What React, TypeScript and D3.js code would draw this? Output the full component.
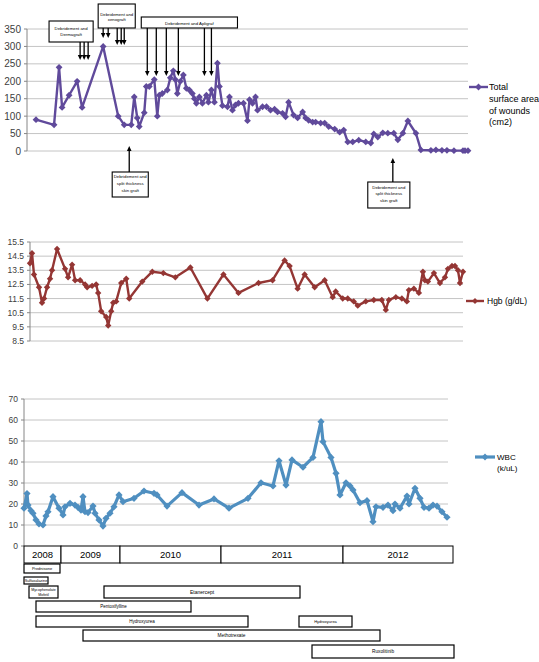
import React from "react";
import * as d3 from "d3";

// ---------- DATA ----------
// Top panel: total surface area of wounds (cm2) by week of follow-up
const woundWeeks = [4.5,13.5,16,17.5,21,25,27.5,38,45.5,48.5,52,53.5,55,56,58.5,59.5,61,63.5,65,66,67.5,70,71.5,73,74,75,76.5,78,79.5,81,82.5,83.5,84.5,86,87.5,89.5,90.5,92,93.5,95,96,97.5,100,101,102.5,104,105.5,108,110,111,112.5,114,115,117.5,119.5,121.5,123.5,125,127.5,129,130.5,133,135,137.5,139,140.5,142.5,144,146.5,148.5,150.5,153.5,156,158,160,162.5,165.5,169,171.5,173,175,177.5,180,183,185,187.5,190,194,196.5,201.5,204,207,209.5,213,217.5,218.5,220];
const woundArea = [90,75,240,125,160,200,125,300,100,75,75,155,95,70,110,185,185,205,100,160,165,175,210,230,205,165,200,218,180,175,165,150,137,155,137,160,140,175,140,252,185,130,127,155,117,132,137,137,87,147,137,155,117,127,127,117,120,112,108,98,140,103,95,112,95,88,83,83,80,80,70,63,54,60,26,26,31,26,23,49,40,52,51,51,32,51,86,51,3,2,3,2,2,1,1,1,1];
const woundTicks = [0,50,100,150,200,250,300,350];

// Middle panel: Hgb (g/dL)
const hgbWeeks = [0,1,2,4.5,6,7,8.5,10,11,13.5,17.5,19,21,22.5,25,27.5,28.5,31,33,34,35.5,38,39,40.5,41.5,43,45.5,48,49.5,56,61,66.5,72.5,80,88.5,96.5,104,114,121,127,129.5,133.5,137,142,147,151,152.5,156,158.5,161.5,163.5,167.5,171.5,175.5,177.5,179,182.5,185.5,188,189,191.5,194,196,197,198.5,201.5,204.5,207,208.5,210.5,212,213.5,214.5,216];
const hgbValues = [14.0,14.7,13.2,12.3,11.2,11.5,12.3,12.9,13.5,15.0,13.6,13.0,13.9,12.8,12.8,12.5,12.3,12.4,12.5,11.9,10.6,10.2,9.6,10.6,11.2,11.3,12.6,12.9,11.5,12.7,13.4,13.3,13.0,13.7,11.5,13.2,11.9,12.6,12.8,14.2,13.8,12.2,13.2,12.3,12.8,11.6,12.0,11.5,11.5,11.3,11.0,11.3,11.4,11.4,10.7,11.4,11.6,11.5,11.3,12.1,12.2,11.9,13.4,12.8,12.7,13.3,12.6,13.0,13.6,13.8,13.8,13.5,12.6,13.4];
const hgbTicks = [8.5,9.5,10.5,11.5,12.5,13.5,14.5,15.5];

// Bottom panel: WBC (k/uL)
const wbcWeeks = [0,1.5,2,3.5,4.5,6,7.5,9.5,11,12,14.5,17.5,19.5,20.5,23,25.5,27,28.5,29.5,30.5,32,34.5,35.5,37.5,39.5,41,43,45,47.5,49.5,55,60,65,66.5,71.5,79,87.5,95,102.5,112,118.5,124.5,127.5,131,134,139.5,144.5,148.5,149.5,153.5,156,158,161,163,164.5,168,171.5,174.5,176,179.5,182,184.5,185.5,188,191.5,192.5,195.5,198,200,202.5,204.5,206.5,209,211.5];
const wbcValues = [18,25,19.5,16.8,15.6,12.4,10.5,10,14.3,16.3,23.5,18,14.8,18.7,20.3,19.5,18.4,17.1,23.5,16.3,15.9,19,15.6,12.4,9.5,13.2,15.6,18.7,24.3,21.1,22.7,26.2,25.1,24.3,19,25.4,19.5,22.4,18,22.7,30.1,28.6,40.6,29,41,37.5,42.2,59.2,49.7,42.2,34.6,24.3,30.1,28.6,26.7,20.6,21.6,11.6,18.7,18.4,19.5,16.8,20,18,23.8,20,27.5,22.7,18.4,18,19.5,19,16.3,13.7];
const wbcTicks = [0,10,20,30,40,50,60,70];

// Year categories (bottom axis)
const yearLabels = ["2008","2009","2010","2011","2012"];
const yearStart = [0,18.5,48,98.5,159.5];
const yearEnd = [18.5,48,98.5,159.5,214.5];

// Medications
const drugNames = ["Prednisone","Sulfasalazine","Mycophenolate|Mofetil","Etanercept","Pentoxifylline","Hydroxyurea","Hydroxyurea","Methotrexate","Ruxolitinib"];
const drugStart = [0,0,2.5,40,6,6,137.5,29.5,144];
const drugEnd = [18,12,17,138,83.5,112,164,178,215];
const drugRow = [0,1,2,2,3,4,4,5,6];

// Procedures (annotations on the wound chart)
const procedureText = ["Debridement and|Dermagraft","Debridement and|xenograft","Debridement and Apligraf","Debridement and|split thickness|skin graft","Debridement and|split thickness|skin graft"];
const procedureBoxStart = [11,35.5,57,42.5,170];
const procedureBoxEnd = [33,54,105,60.5,191];
const procedureArrowWeeks = [[26.5,28.5,30.5],[38,40.5,45,47,48.5],[60,64.5,69.5,75.5,88.5,92],[51],[182.5]];

// ---------- LAYOUT ----------
const W = 539, H = 662;
const FONT = "'Liberation Sans', Arial, sans-serif";
const GRID = "#c4c4c4";
const LABEL = "#404040";
const PURPLE = "#604a9b";
const RED = "#943634";
const BLUE = "#4f8fc0";

const xTop = d3.scaleLinear().domain([0, 220]).range([27, 468]);
const yTop = d3.scaleLinear().domain([0, 350]).range([151, 29]);
const xMid = d3.scaleLinear().domain([0, 216]).range([30, 463]);
const yMid = d3.scaleLinear().domain([8.5, 15.5]).range([341, 242]);
const xBot = d3.scaleLinear().domain([0, 212]).range([24, 448]);
const yBot = d3.scaleLinear().domain([0, 70]).range([546, 399]);

// annotation box layout: [top, bottom], first text line centre, line spacing, arrow tips
const procBoxY = [[21, 42], [4, 28], [17, 28], [172, 197], [182, 208]];
const procTextY = [28.3, 14.3, 23, 176.5, 187];
const procLineGap = [5.8, 5, 0, 7, 6.8];
const procArrowTip = [[60, 60, 60], [38, 38, 45, 45, 45], [76, 76, 76, 76, 76, 76], [146], [158]];
const procArrowUp = [false, false, false, true, true];

const drugRowY = [[564, 573], [577, 584], [586, 598], [601, 612], [616, 627], [630, 641], [645, 658]];
const drugFont = [4, 3.8, 3.6, 5, 4.5, 4.5, 4, 4.8, 4.8];

function diamond(r: number) {
  return `M0,${-r}L${r},0L0,${r}L${-r},0Z`;
}

function Series({ xs, ys, x, y, color, width, r }: any) {
  const line = d3.line<number>().x((_, i) => x(xs[i])).y((d) => y(d));
  return (
    <g>
      <path d={line(ys) || ""} fill="none" stroke={color} strokeWidth={width} strokeLinejoin="round" />
      {ys.map((v: number, i: number) => (
        <path key={i} transform={`translate(${x(xs[i])},${y(v)})`} d={diamond(r)} fill={color} />
      ))}
    </g>
  );
}

function Grid({ ticks, x, y, fmt, fontSize, axisBottom }: any) {
  const [x0, x1] = x.range();
  const [yb, yt] = y.range();
  return (
    <g>
      {ticks.map((t: number) => (
        <g key={t}>
          <line x1={x0} x2={x1} y1={y(t)} y2={y(t)} stroke={GRID} strokeWidth={1} />
          <line x1={x0 - 3} x2={x0} y1={y(t)} y2={y(t)} stroke="#868686" strokeWidth={1} />
          <text x={x0 - 6} y={y(t)} dy="0.35em" textAnchor="end" fontSize={fontSize} fill={LABEL} fontFamily={FONT}>
            {fmt(t)}
          </text>
        </g>
      ))}
      <line x1={x0} x2={x0} y1={yt} y2={axisBottom ?? yb} stroke="#868686" strokeWidth={1} />
    </g>
  );
}

function Arrow({ x, y0, y1 }: { x: number; y0: number; y1: number }) {
  const dir = y1 > y0 ? 1 : -1;
  const head = 5;
  return (
    <g>
      <line x1={x} x2={x} y1={y0} y2={y1 - dir * head} stroke="#000" strokeWidth={1.3} />
      <path d={`M${x - 2.3},${y1 - dir * head}L${x + 2.3},${y1 - dir * head}L${x},${y1}Z`} fill="#000" />
    </g>
  );
}

export default function App() {
  return (
    <svg width={W} height={H} style={{ position: "absolute", left: 0, top: 0, background: "#fff" }} fontFamily={FONT}>
      {/* ---------- Top panel ---------- */}
      <Grid ticks={woundTicks} x={xTop} y={yTop} fmt={(t: number) => String(t)} fontSize={10} />
      <Series xs={woundWeeks} ys={woundArea} x={xTop} y={yTop} color={PURPLE} width={2.4} r={3.4} />
      <g>
        <line x1={469} x2={488} y1={87} y2={87} stroke={PURPLE} strokeWidth={2.4} />
        <path transform="translate(478.5,87)" d={diamond(3.4)} fill={PURPLE} />
        {["Total", "surface area", "of wounds", "(cm2)"].map((s, i) => (
          <text key={i} x={489} y={87 + i * 11.7} dy="0.35em" fontSize={9} fill="#000">{s}</text>
        ))}
      </g>
      {procedureText.map((txt, k) => {
        const bx0 = xTop(procedureBoxStart[k]);
        const bx1 = xTop(procedureBoxEnd[k]);
        const [by0, by1] = procBoxY[k];
        const lines = txt.split("|");
        return (
          <g key={k}>
            <rect x={bx0} y={by0} width={bx1 - bx0} height={by1 - by0} fill="#fff" stroke="#000" strokeWidth={1.1} />
            {lines.map((s, i) => (
              <text key={i} x={(bx0 + bx1) / 2} y={procTextY[k] + i * procLineGap[k]} dy="0.35em" textAnchor="middle" fontSize={4.3} fill="#000">{s}</text>
            ))}
            {procedureArrowWeeks[k].map((w, j) => (
              <Arrow key={j} x={xTop(w)} y0={procArrowUp[k] ? by0 : by1} y1={procArrowTip[k][j]} />
            ))}
          </g>
        );
      })}

      {/* ---------- Middle panel ---------- */}
      <Grid ticks={hgbTicks} x={xMid} y={yMid} fmt={(t: number) => t.toFixed(1)} fontSize={8.5} />
      <Series xs={hgbWeeks} ys={hgbValues} x={xMid} y={yMid} color={RED} width={2.4} r={3.2} />
      <g>
        <line x1={466} x2={484} y1={301} y2={301} stroke={RED} strokeWidth={2.4} />
        <path transform="translate(475,301)" d={diamond(3)} fill={RED} />
        <text x={487} y={301} dy="0.35em" fontSize={8.5} fill="#000">Hgb (g/dL)</text>
      </g>

      {/* ---------- Bottom panel ---------- */}
      <Grid ticks={wbcTicks.slice(1)} x={xBot} y={yBot} fmt={(t: number) => String(t)} fontSize={8.5} axisBottom={546} />
      <text x={xBot.range()[0] - 6} y={yBot(0)} dy="0.35em" textAnchor="end" fontSize={8.5} fill={LABEL}>0</text>
      <line x1={xBot.range()[0] - 3} x2={xBot.range()[0]} y1={yBot(0)} y2={yBot(0)} stroke="#868686" />
      <Series xs={wbcWeeks} ys={wbcValues} x={xBot} y={yBot} color={BLUE} width={3.2} r={3.6} />
      <g>
        <line x1={475} x2={495} y1={457} y2={457} stroke={BLUE} strokeWidth={3.2} />
        <path transform="translate(485,457)" d={diamond(3.4)} fill={BLUE} />
        <text x={497} y={457} dy="0.35em" fontSize={8} fill="#000">WBC</text>
        <text x={497} y={468} dy="0.35em" fontSize={8} fill="#000">(k/uL)</text>
      </g>
      {yearLabels.map((yl, i) => {
        const a = xBot(yearStart[i]);
        const b = xBot(yearEnd[i]);
        return (
          <g key={yl}>
            <rect x={a} y={546} width={b - a} height={17} fill="#fff" stroke="#000" strokeWidth={1} />
            <text x={(a + b) / 2} y={554.5} dy="0.35em" textAnchor="middle" fontSize={9.5} fill="#000">{yl}</text>
          </g>
        );
      })}
      {drugNames.map((nm, i) => {
        const a = xBot(drugStart[i]);
        const b = xBot(drugEnd[i]);
        const [t, bt] = drugRowY[drugRow[i]];
        const lines = nm.split("|");
        const mid = (t + bt) / 2;
        const gap = drugFont[i] * 1.35;
        return (
          <g key={i}>
            <rect x={a} y={t} width={b - a} height={bt - t} fill="#fff" stroke="#000" strokeWidth={1.2} />
            {lines.map((s, j) => (
              <text key={j} x={(a + b) / 2} y={mid + (j - (lines.length - 1) / 2) * gap} dy="0.35em" textAnchor="middle" fontSize={drugFont[i]} fill="#000">{s}</text>
            ))}
          </g>
        );
      })}
    </svg>
  );
}
